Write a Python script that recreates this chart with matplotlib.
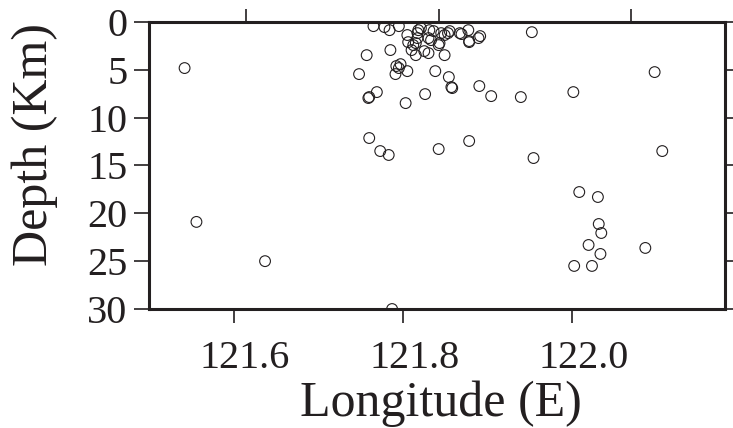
import numpy as np
import matplotlib
matplotlib.use("Agg")
import matplotlib.pyplot as plt
import matplotlib.transforms as mtransforms

# earthquake hypocentres: longitude (deg E) and depth (km)
lon = [
    121.542, 121.556, 121.637, 121.787, 121.952, 122.097, 122.001, 121.939,
    121.904, 121.890, 121.858, 121.857, 121.854, 121.838, 121.849, 121.878,
    121.842, 121.954, 122.106, 122.008, 122.030, 122.031, 122.034, 122.019,
    122.033, 122.086, 122.002, 122.023,
    121.757, 121.748, 121.769, 121.760, 121.759, 121.803, 121.826, 121.760,
    121.773, 121.783, 121.785, 121.815, 121.830, 121.792, 121.797, 121.795,
    121.791, 121.805,
    121.765, 121.778, 121.784, 121.795, 121.821, 121.836, 121.805, 121.817,
    121.806, 121.812, 121.815, 121.830, 121.843, 121.810, 121.818, 121.831,
    121.845, 121.853, 121.855, 121.867, 121.877, 121.889, 121.891, 121.842,
    121.825, 121.869, 121.849, 121.878, 121.833, 121.817, 121.878,
]
depth = [
    4.83, 20.9, 25.0, 30.0, 1.08, 5.25, 7.34, 7.86,
    7.76, 6.71, 6.92, 6.82, 5.77, 5.15, 3.48, 12.45,
    13.29, 14.23, 13.5, 17.78, 18.30, 21.12, 22.06, 23.31,
    24.25, 23.62, 25.50, 25.50,
    3.48, 5.46, 7.34, 7.86, 7.96, 8.49, 7.55, 12.14,
    13.50, 13.91, 2.95, 3.48, 3.27, 4.62, 4.42, 4.83,
    5.46, 5.15,
    0.45, 0.55, 0.87, 0.45, 0.66, 0.97, 1.38, 1.18,
    2.12, 2.43, 2.22, 1.70, 2.22, 2.95, 0.87, 0.87,
    1.18, 1.18, 0.97, 1.18, 0.87, 1.70, 1.49, 2.43,
    3.06, 1.28, 1.38, 2.12, 1.91, 1.70, 2.01,
]

x_ticks = [121.6, 121.8, 122.0]
x_tick_labels = ["121.6", "121.8", "122.0"]
y_ticks = [0, 5, 10, 15, 20, 25, 30]
top_ticks = [121.615, 121.842, 122.069]

ink = "#231f20"
plt.rcParams["font.family"] = ["Liberation Serif", "DejaVu Serif"]

fig = plt.figure(figsize=(7.33, 4.28), dpi=100)
ax = fig.add_axes([0.2033, 0.278, 0.7857, 0.671])

ax.scatter(lon, depth, s=60, facecolors="none", edgecolors=ink,
           linewidths=0.8, zorder=3)

ax.set_xlim(121.5, 122.18)
ax.set_ylim(30, 0)

ax.set_xticks(x_ticks)
ax.set_xticklabels(x_tick_labels)
ax.set_yticks(y_ticks)

ax.tick_params(axis="x", direction="out", length=10, width=1.2,
               labelsize=29, pad=12, colors=ink)
ax.tick_params(axis="y", direction="out", length=10.5, width=1.2,
               labelsize=29, pad=5, right=True, colors=ink)

# nudge the longitude labels a little to the right of their ticks
shift = mtransforms.ScaledTranslation(8 / 72, 0, fig.dpi_scale_trans)
for lab in ax.get_xticklabels():
    lab.set_transform(lab.get_transform() + shift)

for sp in ax.spines.values():
    sp.set_linewidth(2.2)
    sp.set_color(ink)

# unlabelled ticks along the top edge
top = ax.secondary_xaxis("top")
top.set_xticks(top_ticks)
top.set_xticklabels([])
top.tick_params(direction="out", length=9.5, width=1.2, colors=ink)
top.spines["top"].set_visible(False)

fig.text(0.047, 1 - 145 / 428, "Depth (Km)", rotation=90, ha="center",
         va="center", fontsize=36, color=ink)
fig.text(0.6016, 1 - 416 / 428, "Longitude (E)", ha="center",
         va="baseline", fontsize=36, color=ink)

fig.savefig("out.png", dpi=100)
